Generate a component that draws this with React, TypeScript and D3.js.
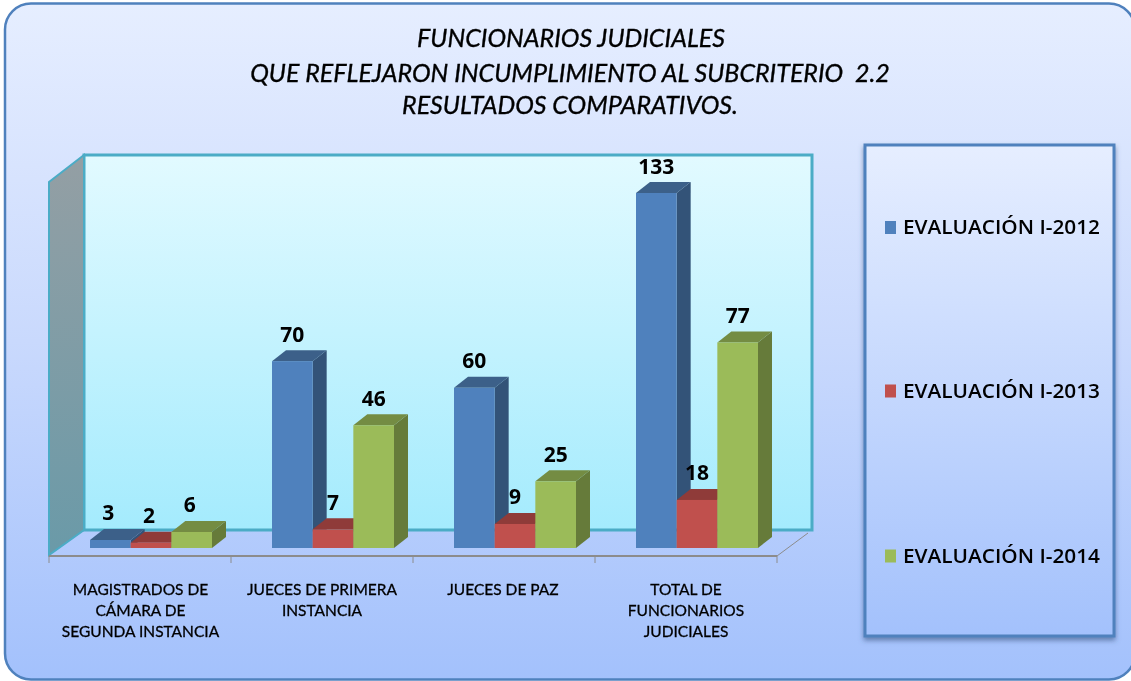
import React from "react";
import * as d3 from "d3";

const titleLines = ["FUNCIONARIOS JUDICIALES", "QUE REFLEJARON INCUMPLIMIENTO AL SUBCRITERIO  2.2", "RESULTADOS COMPARATIVOS."];
const categories = ["MAGISTRADOS", "JUECES1", "JUECESPAZ", "TOTAL"];
const categoryLabels = [
  ["MAGISTRADOS DE", "CÁMARA DE", "SEGUNDA INSTANCIA"],
  ["JUECES DE PRIMERA", "INSTANCIA"],
  ["JUECES DE PAZ"],
  ["TOTAL DE", "FUNCIONARIOS", "JUDICIALES"],
];
const seriesNames = ["EVALUACIÓN I-2012", "EVALUACIÓN I-2013", "EVALUACIÓN I-2014"];
const values2012 = [3, 70, 60, 133];
const values2013 = [2, 7, 9, 18];
const values2014 = [6, 46, 25, 77];
const seriesValues = [values2012, values2013, values2014];
const frontColors = ["#4f81bd", "#c0504d", "#9bbb59"];
const topColors = ["#3c6089", "#8f3b39", "#748c43"];
const sideColors = ["#335378", "#7e3432", "#667b3a"];

const DX = 14, DY = -11;
const FLOOR_Y = 548;

export default function App() {
  const x0 = d3.scaleBand<string>().domain(categories).range([49, 777]);
  const x1 = d3.scaleBand<string>().domain(seriesNames).range([0, 122]);
  const y = d3.scaleLinear().domain([0, 133]).range([FLOOR_Y, 193]);
  const ticks = d3.range(0, categories.length + 1).map((i) => 49 + (i * 728) / categories.length);
  const line = d3.line();
  const poly = (p: [number, number][]) => line(p) + "Z";

  return (
    <svg width={1131} height={681} style={{ position: "absolute", left: 0, top: 0, display: "block" }}>
      <defs>
        <linearGradient id="bg" x1="0" y1="0" x2="0" y2="1">
          <stop offset="0" stopColor="#e6eeff" />
          <stop offset="0.5" stopColor="#c9d9fd" />
          <stop offset="1" stopColor="#a3c1fc" />
        </linearGradient>
        <linearGradient id="wall" x1="0" y1="0" x2="0" y2="1">
          <stop offset="0" stopColor="#e2faff" />
          <stop offset="1" stopColor="#a4ebfd" />
        </linearGradient>
        <linearGradient id="side" x1="0" y1="0" x2="0" y2="1">
          <stop offset="0" stopColor="#949fa4" />
          <stop offset="1" stopColor="#6a9aa8" />
        </linearGradient>
        <linearGradient id="legendBg" x1="0" y1="0" x2="0" y2="1">
          <stop offset="0" stopColor="#e6eeff" />
          <stop offset="1" stopColor="#a3c1fc" />
        </linearGradient>
        <filter id="soft" x="-5%" y="-20%" width="110%" height="140%">
          <feGaussianBlur stdDeviation="0.35" />
        </filter>
        <filter id="shadow" x="-10%" y="-10%" width="120%" height="120%">
          <feDropShadow dx="0" dy="3" stdDeviation="2.5" floodColor="#33507a" floodOpacity="0.6" />
        </filter>
      </defs>

      <rect x={0} y={0} width={1131} height={681} fill="#ffffff" />
      <rect x={5} y={3.5} width={1130} height={676} rx={26} ry={26} fill="url(#bg)" stroke="#4f81bd" strokeWidth={2.5} />

      <g fontFamily="Lato, 'Open Sans', sans-serif" fontStyle="italic" fontSize={25} fill="#000" stroke="#000" strokeWidth={0.35} textAnchor="middle" filter="url(#soft)">
        {titleLines.map((t, i) => (
          <text key={i} x={i === 0 ? 571 : 570} y={[47, 82, 114][i]} xmlSpace="preserve">{t}</text>
        ))}
      </g>

      {/* walls and floor */}
      <path d={poly([[84, 155], [812, 155], [812, 530], [84, 530]])} fill="url(#wall)" stroke="#4bacc6" strokeWidth={3} />
      <path d={poly([[49, 182], [84, 155], [84, 530], [49, 555]])} fill="url(#side)" stroke="#4bacc6" strokeWidth={2} />
      <path d={line([[777, 556], [808, 533]])!} stroke="#8c8c8c" strokeWidth={1} fill="none" />
      <path d={line([[49, 556], [777, 556]])!} stroke="#8c8c8c" strokeWidth={2} fill="none" />
      {ticks.map((t) => (
        <line key={t} x1={t} x2={t} y1={556} y2={563} stroke="#8c8c8c" strokeWidth={1} />
      ))}

      {/* bars */}
      {categories.map((c, ci) =>
        seriesNames.map((s, si) => {
          const v = seriesValues[si][ci];
          const bx = (x0(c) as number) + 41 + (x1(s) as number);
          const w = x1.bandwidth();
          const ty = y(v);
          return (
            <g key={c + s}>
              <path d={poly([[bx + w, ty], [bx + w + DX, ty + DY], [bx + w + DX, FLOOR_Y + DY], [bx + w, FLOOR_Y]])} fill={sideColors[si]} />
              <path d={poly([[bx, ty], [bx + DX, ty + DY], [bx + w + DX, ty + DY], [bx + w, ty]])} fill={topColors[si]} />
              <rect x={bx} y={ty} width={w} height={FLOOR_Y - ty} fill={frontColors[si]} />
            </g>
          );
        })
      )}

      {/* value labels */}
      <g fontFamily="'Open Sans', Lato, sans-serif" fontWeight={700} fontSize={21} fill="#000" textAnchor="middle" filter="url(#soft)">
        {categories.map((c, ci) =>
          seriesNames.map((s, si) => {
            const v = seriesValues[si][ci];
            const bx = (x0(c) as number) + 41 + (x1(s) as number);
            return (
              <text key={c + s} x={bx + x1.bandwidth() / 2 - (ci === 0 ? 2 : 0)} y={y(v) + DY - 8.5}>{v}</text>
            );
          })
        )}
      </g>

      {/* category labels */}
      <g fontFamily="Lato, 'Open Sans', sans-serif" fontSize={15.5} fill="#000" stroke="#000" strokeWidth={0.3} textAnchor="middle" filter="url(#soft)">
        {categoryLabels.map((lines, ci) =>
          lines.map((l, li) => (
            <text key={l} x={[140.5, 322, 503, 686][ci]} y={595 + li * 21}>{l}</text>
          ))
        )}
      </g>

      {/* legend */}
      <rect x={865} y={145} width={249} height={491} fill="url(#legendBg)" stroke="#4f81bd" strokeWidth={3} filter="url(#shadow)" />
      {seriesNames.map((s, i) => {
        const ly = [227.5, 391, 556][i];
        return (
          <g key={s}>
            <rect x={885} y={ly - 6.5} width={11} height={13} fill={frontColors[i]} />
            <text x={903} y={ly + 6.5} fontFamily="'Open Sans', sans-serif" fontWeight={600} fontSize={20} fill="#000" filter="url(#soft)" textLength={197} lengthAdjust="spacingAndGlyphs">{s}</text>
          </g>
        );
      })}
    </svg>
  );
}
